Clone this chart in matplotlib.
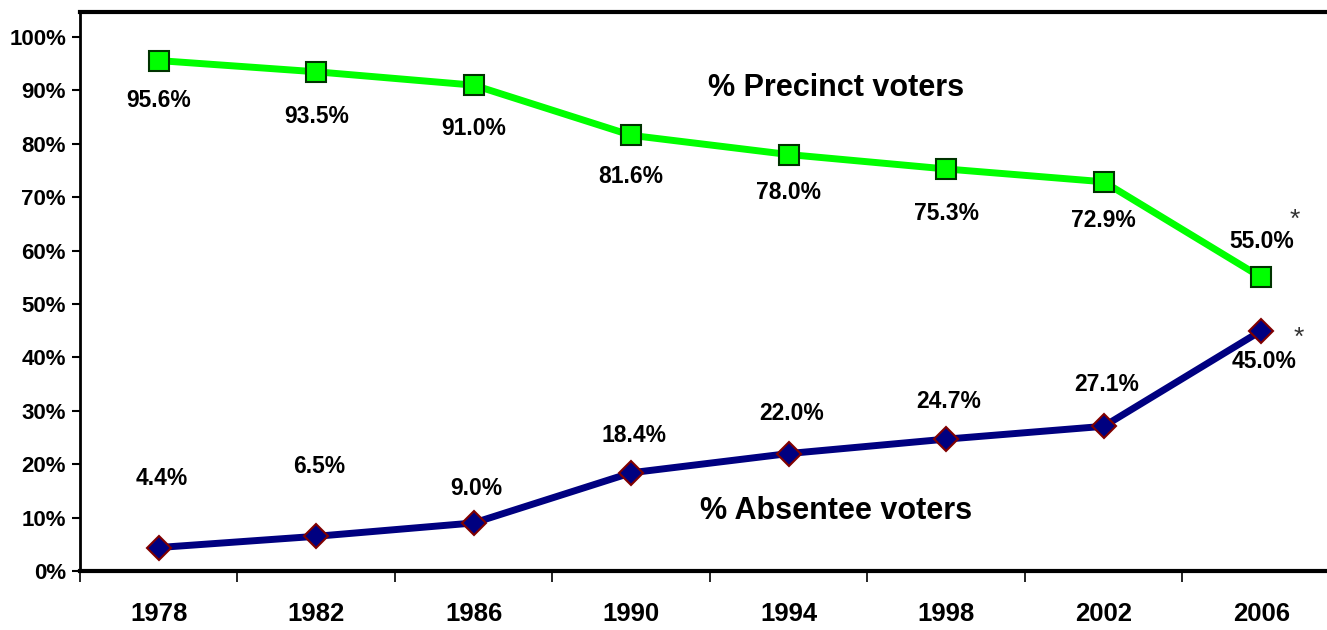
import numpy as np
import matplotlib.pyplot as plt
from matplotlib.ticker import FixedLocator

years = ['1978', '1982', '1986', '1990', '1994', '1998', '2002', '2006']
precinct = [95.6, 93.5, 91.0, 81.6, 78.0, 75.3, 72.9, 55.0]
absentee = [4.4, 6.5, 9.0, 18.4, 22.0, 24.7, 27.1, 45.0]
# label offsets in points (vertical)
precinct_off = [-29, -32, -31, -30, -27, -32, -28, 26]
absentee_off = [50, 50, 25, 27, 29, 27, 30, -22]

plt.rcParams['font.family'] = ['Liberation Sans', 'DejaVu Sans']

fig = plt.figure(figsize=(13.27, 6.30), dpi=100)
ax = fig.add_axes([80 / 1327, 1 - 571 / 630, 1 - 80 / 1327, (571 - 12) / 630])

x = np.arange(len(years))
ax.plot(x, precinct, color='#00FF00', lw=5, marker='s', markersize=14,
        markerfacecolor='#00FF00', markeredgecolor='#003300', markeredgewidth=1.5, zorder=3)
ax.plot(x, absentee, color='#000080', lw=5, marker='D', markersize=12,
        markerfacecolor='#000080', markeredgecolor='#800000', markeredgewidth=1.5, zorder=3)

for i in range(len(years)):
    ax.annotate(f'{precinct[i]:.1f}%', (x[i], precinct[i]), xytext=(0, precinct_off[i]),
                textcoords='offset points', ha='center', va='center',
                fontsize=16.5, fontweight='bold')
    ax.annotate(f'{absentee[i]:.1f}%', (x[i], absentee[i]), xytext=(2, absentee_off[i]),
                textcoords='offset points', ha='center', va='center',
                fontsize=16.5, fontweight='bold')

ax.text(4.3, 90.4, '% Precinct voters', ha='center', va='center', fontsize=22, fontweight='bold')
ax.text(4.3, 11.2, '% Absentee voters', ha='center', va='center', fontsize=22, fontweight='bold')
ax.text(7.21, 65.8, '*', ha='center', va='center', fontsize=19, color='#333333')
ax.text(7.24, 43.6, '*', ha='center', va='center', fontsize=19, color='#333333')

ax.set_xlim(-0.5, (1327 - 158) / 157.6)
ax.set_ylim(0, 104.7)
ax.set_yticks(np.arange(0, 101, 10))
ax.set_yticklabels([f'{v}%' for v in range(0, 101, 10)], fontsize=16, fontweight='bold')
ax.set_xticks(x)
ax.set_xticklabels(years, fontsize=18.5, fontweight='bold')
ax.xaxis.set_minor_locator(FixedLocator(np.arange(-0.5, 8, 1)))
ax.tick_params(axis='x', which='major', length=0, pad=22)
ax.tick_params(axis='x', which='minor', length=8, width=1.2)
ax.tick_params(axis='y', length=6, width=1.5, pad=4)

ax.spines['right'].set_visible(False)
ax.spines['left'].set_linewidth(2)
ax.spines['bottom'].set_linewidth(3)
ax.spines['top'].set_linewidth(3)

fig.savefig('out.png', dpi=100)
